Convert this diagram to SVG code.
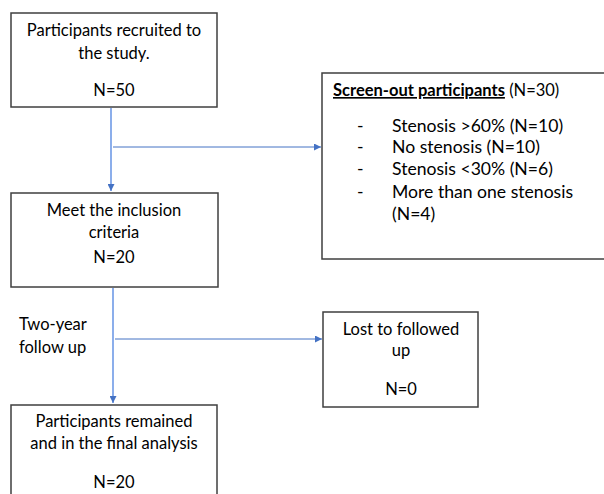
<svg xmlns="http://www.w3.org/2000/svg" width="604" height="494" viewBox="0 0 604 494">
<defs>
<style>
text{font-family:Lato,"Liberation Sans",sans-serif;font-size:16.5px;fill:#000}
.c{text-anchor:middle}
.l{font-size:17.6px}
.box{fill:#fff;stroke:#3f3f3f;stroke-width:1.5}
.h{stroke:#4472C4;stroke-width:1;fill:none}
.v{stroke:#6f9ae6;stroke-width:1.6;fill:none}
.b{font-weight:bold;text-decoration:underline}
</style>
<marker id="ah" viewBox="0 0 10 10" refX="10" refY="5" markerWidth="7" markerHeight="7" markerUnits="userSpaceOnUse" orient="auto">
<path d="M0,0 L10,5 L0,10 z" fill="#4472C4"/>
</marker>
</defs>
<g id="connectors">
<line class="v" x1="111" y1="108" x2="111" y2="191" marker-end="url(#ah)"/>
<line class="h" x1="113" y1="147" x2="321" y2="147" marker-end="url(#ah)"/>
<line class="v" x1="113" y1="288" x2="113" y2="403" marker-end="url(#ah)"/>
<line class="h" x1="115" y1="339" x2="322" y2="339" marker-end="url(#ah)"/>
</g>
<g id="recruited">
<rect class="box" x="11" y="13" width="206" height="94"/>
<text class="c" x="114" y="36">Participants recruited to</text>
<text class="c" x="114" y="59">the study.</text>
<text class="c" x="114" y="96">N=50</text>
</g>
<g id="screenout">
<rect class="box" x="322" y="73" width="290" height="186"/>
<text x="333" y="96"><tspan class="b">Screen-out participants</tspan> (N=30)</text>
<text class="l" x="357" y="132">-</text><text class="l" x="392" y="132">Stenosis &gt;60% (N=10)</text>
<text class="l" x="357" y="153">-</text><text class="l" x="392" y="153">No stenosis (N=10)</text>
<text class="l" x="357" y="175">-</text><text class="l" x="392" y="175">Stenosis &lt;30% (N=6)</text>
<text class="l" x="357" y="198">-</text><text class="l" x="392" y="198">More than one stenosis</text>
<text class="l" x="392" y="220">(N=4)</text>
</g>
<g id="inclusion">
<rect class="box" x="11" y="193" width="207" height="94"/>
<text class="c" x="114" y="216">Meet the inclusion</text>
<text class="c" x="114" y="238">criteria</text>
<text class="c" x="114" y="263">N=20</text>
</g>
<g id="followup-label">
<text x="19" y="330">Two-year</text>
<text x="19" y="353">follow up</text>
</g>
<g id="lost">
<rect class="box" x="323" y="312" width="155" height="95"/>
<text class="c" x="401" y="335">Lost to followed</text>
<text class="c" x="401" y="356">up</text>
<text class="c" x="401" y="395">N=0</text>
</g>
<g id="final">
<rect class="box" x="11" y="405" width="206" height="100"/>
<text class="c" x="114" y="427">Participants remained</text>
<text class="c" x="114" y="449">and in the final analysis</text>
<text class="c" x="114" y="488">N=20</text>
</g>
</svg>
